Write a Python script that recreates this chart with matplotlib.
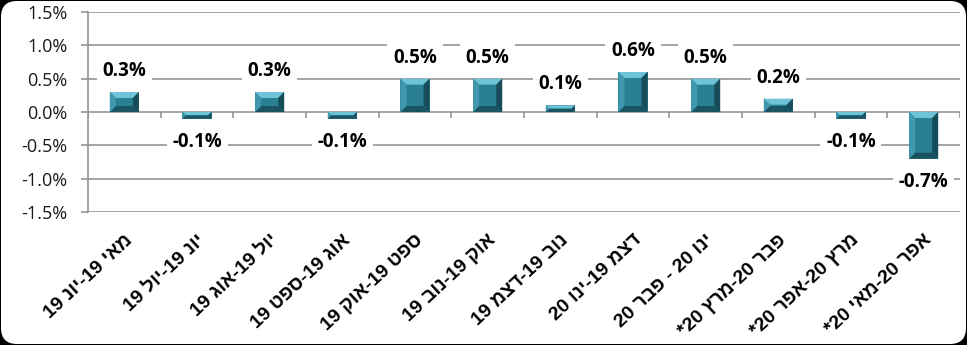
import matplotlib
matplotlib.use("Agg")
import matplotlib.pyplot as plt
from matplotlib.patches import FancyBboxPatch, Polygon
from matplotlib.transforms import IdentityTransform
import numpy as np

categories = [
    "מאי 19-יונ 19",
    "יונ 19-יול 19",
    "יול 19-אוג 19",
    "אוג 19-ספט 19",
    "ספט 19-אוק 19",
    "אוק 19-נוב 19",
    "נוב 19-דצמ 19",
    "דצמ 19-ינו 20",
    "ינו 20 - פבר 20",
    "פבר 20-מרץ 20*",
    "מרץ 20-אפר 20*",
    "אפר 20-מאי 20*",
]
values = [0.3, -0.1, 0.3, -0.1, 0.5, 0.5, 0.1, 0.6, 0.5, 0.2, -0.1, -0.7]
yticks = [-1.5, -1.0, -0.5, 0.0, 0.5, 1.0, 1.5]


def visual(s):
    """Simple RTL bidi reordering: reverse, keep digit runs LTR."""
    r = s[::-1]
    out, run = [], ""
    for ch in r:
        if ch.isdigit():
            run += ch
        else:
            if run:
                out.append(run[::-1])
                run = ""
            out.append(ch)
    if run:
        out.append(run[::-1])
    return "".join(out)


W, H, DPI = 967, 345, 100
fig = plt.figure(figsize=(W / DPI, H / DPI), dpi=DPI, facecolor="black")
bg = FancyBboxPatch((0.01, 0.01), W / DPI - 0.02, H / DPI - 0.02,
                    boxstyle="round,pad=0,rounding_size=0.16",
                    transform=fig.dpi_scale_trans, facecolor="white",
                    edgecolor="none", zorder=-10)
fig.patches.append(bg)

ax = fig.add_axes([88 / W, 1 - 212 / H, (960 - 88) / W, 200 / H])
ax.set_facecolor("none")
x = np.arange(len(values))
ax.set_xlim(-0.5, len(values) - 0.5)
ax.set_ylim(-1.5, 1.5)

grid_c = "#8c8c8c"
ax.set_yticks(yticks)
ax.yaxis.grid(True, color=grid_c, linewidth=1.1, zorder=0)
ax.set_axisbelow(True)
for s in ["top", "right", "bottom"]:
    ax.spines[s].set_visible(False)
ax.spines["left"].set_color(grid_c)
ax.spines["left"].set_linewidth(1.1)
ax.set_yticklabels([f"{t:.1f}%" for t in yticks], fontfamily="Open Sans",
                   fontsize=13, color="#1a1a1a")
ax.tick_params(axis="y", length=5, width=1.1, color=grid_c, pad=10)

ax.set_xticks(x)
ax.set_xticklabels([visual(c) for c in categories], rotation=43, ha="right",
                   rotation_mode="anchor", fontsize=14, fontweight="bold",
                   fontfamily=["Liberation Sans", "DejaVu Sans"])
ax.tick_params(axis="x", length=0, pad=14)

# minor tick marks at category boundaries on the zero line
ypx = 6 * 3.0 / 200
ax.vlines(np.arange(len(values) + 1) - 0.5, 0, -ypx, color=grid_c, linewidth=1.1, zorder=1)

bars = ax.bar(x, values, width=0.4, color="#2b7f93", edgecolor="none", zorder=3)

fig.canvas.draw()
colors = {"top": "#6ec4d6", "left": "#3f98ad", "right": "#174c59", "bottom": "#1a5463"}
for b in bars:
    (x0, y0), (x1, y1) = ax.transData.transform(
        [(b.get_x(), min(b.get_y(), b.get_y() + b.get_height())),
         (b.get_x() + b.get_width(), max(b.get_y(), b.get_y() + b.get_height()))])
    h = y1 - y0
    w = x1 - x0
    bv = min(6.0, h / 2.2, w / 2.2)
    polys = {
        "top": [(x0, y1), (x1, y1), (x1 - bv, y1 - bv), (x0 + bv, y1 - bv)],
        "bottom": [(x0, y0), (x1, y0), (x1 - bv, y0 + bv), (x0 + bv, y0 + bv)],
        "left": [(x0, y0), (x0, y1), (x0 + bv, y1 - bv), (x0 + bv, y0 + bv)],
        "right": [(x1, y0), (x1, y1), (x1 - bv, y1 - bv), (x1 - bv, y0 + bv)],
    }
    for k, p in polys.items():
        fig.add_artist(Polygon(p, closed=True, transform=IdentityTransform(),
                               facecolor=colors[k], edgecolor="none", zorder=4))

for i, v in enumerate(values):
    off = 21 if v >= 0 else -23
    ax.annotate(f"{v:.1f}%", xy=(i, v), xytext=(0, off), textcoords="offset pixels",
                ha="center", va="center", fontsize=13.5, fontweight="bold",
                fontfamily="Open Sans", color="black", zorder=5,
                bbox=dict(boxstyle="square,pad=0.3", facecolor="white", edgecolor="none"))

fig.savefig("out.png", dpi=DPI, facecolor="black")
